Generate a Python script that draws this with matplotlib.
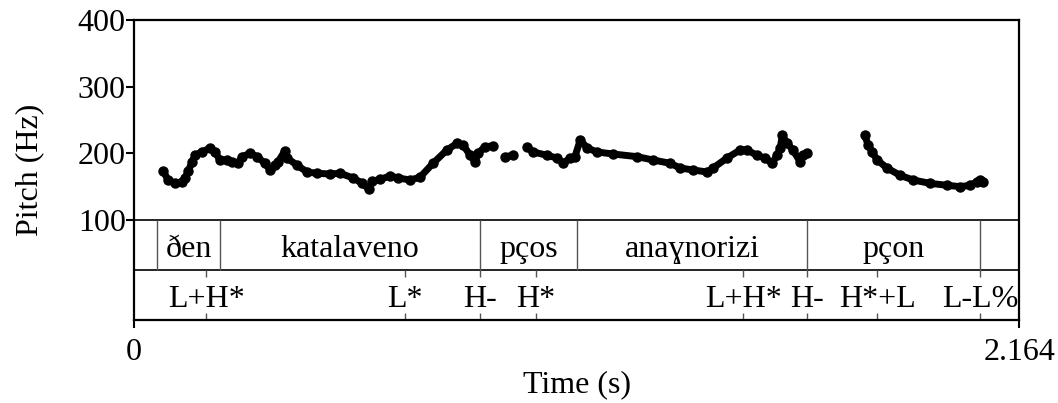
import numpy as np
import matplotlib.pyplot as plt

plt.rcParams['font.family'] = ['Liberation Serif', 'DejaVu Serif']

# pitch track (s, Hz); NaN marks voiceless gaps
times = [0.071, 0.083, 0.100, 0.117, 0.125, 0.132, 0.142, 0.149, 0.166, 0.186,
         0.198, 0.210, 0.227, 0.240, 0.254, 0.264, 0.284, 0.301, 0.320, 0.333,
         0.345, 0.352, 0.369, 0.374, 0.399, 0.423, 0.448, 0.479, 0.504, 0.536,
         0.558, 0.575, 0.582, 0.602, 0.626, 0.646, 0.675, 0.699, 0.731, 0.765,
         0.790, 0.805, 0.822, 0.834, 0.841, 0.858, 0.878, np.nan,
         0.907, 0.927, np.nan,
         0.961, 0.976, 1.010, 1.034, 1.049, 1.066, 1.078, 1.091, 1.108, 1.132,
         1.171, 1.230, 1.269, 1.311, 1.335, 1.367, 1.401, 1.416, 1.450, 1.482,
         1.499, 1.523, 1.543, 1.560, 1.572, 1.580, 1.585, 1.597, 1.611, 1.629,
         1.636, 1.646, np.nan,
         1.787, 1.795, 1.805, 1.817, 1.841, 1.873, 1.905, 1.946, 1.988, 2.020,
         2.044, 2.061, 2.069, 2.076]
pitch = [174, 160, 155, 157, 163, 173, 187, 197, 202, 208,
         202, 190, 190, 187, 185, 195, 200, 195, 185, 175,
         182, 187, 204, 193, 182, 172, 170, 169, 170, 163,
         155, 146, 158, 161, 166, 163, 160, 164, 185, 205,
         215, 212, 197, 187, 200, 210, 211, np.nan,
         195, 197, np.nan,
         210, 202, 197, 193, 185, 193, 195, 220, 208, 202,
         199, 195, 190, 185, 178, 175, 172, 178, 193, 205,
         205, 197, 193, 185, 197, 208, 227, 215, 205, 187,
         197, 200, np.nan,
         227, 212, 202, 190, 178, 167, 160, 155, 152, 150,
         152, 157, 160, 157]

words = ['ðen', 'katalaveno', 'pços', 'anaɣnorizi', 'pçon']
word_bounds = [0.056, 0.210, 0.846, 1.083, 1.646, 2.069]

tones = ['L+H*', 'L*', 'H-', 'H*', 'L+H*', 'H-', 'H*+L', 'L-L%']
tone_times = [0.176, 0.663, 0.846, 0.983, 1.489, 1.646, 1.817, 2.069]

t_end = 2.164
fs = 23

fig = plt.figure(figsize=(10.58, 4.03), dpi=100)
ax = fig.add_axes([0.1267, 0.206, 0.8365, 0.7444])

ax.plot(times, pitch, color='black', lw=5, solid_capstyle='round',
        solid_joinstyle='round')
ax.plot(times, pitch, 'o', color='black', ms=6.5)

# tier frame lines
ax.axhline(100, color='black', lw=1.2)
ax.axhline(25, color='black', lw=1.2)

# word tier
ax.vlines(word_bounds, 25, 100, color='#555555', lw=1.0)
for i, w in enumerate(words):
    mid = (word_bounds[i] + word_bounds[i + 1]) / 2
    ax.text(mid, 44.5, w, ha='center', va='baseline', fontsize=fs)

# tone tier
ax.vlines(tone_times, 14, 25, color='#555555', lw=1.0)
ax.vlines(tone_times, -50, -39, color='#555555', lw=1.0)
for t, lab in zip(tone_times, tones):
    ax.text(t, -30.5, lab, ha='center', va='baseline', fontsize=fs)

ax.set_xlim(0, t_end)
ax.set_ylim(-50, 400)
ax.set_xticks([0, t_end])
ax.set_xticklabels(['0', '2.164'])
ax.set_yticks([100, 200, 300, 400])

for s in ax.spines.values():
    s.set_linewidth(1.6)
ax.tick_params(direction='out', length=6, width=1.5, labelsize=fs)
ax.tick_params(axis='y', pad=0)
ax.tick_params(axis='x', pad=7)

ax.set_ylabel('Pitch (Hz)', fontsize=fs, labelpad=24)
ax.set_xlabel('Time (s)', fontsize=fs, labelpad=2)

fig.savefig('out.png', dpi=100)
